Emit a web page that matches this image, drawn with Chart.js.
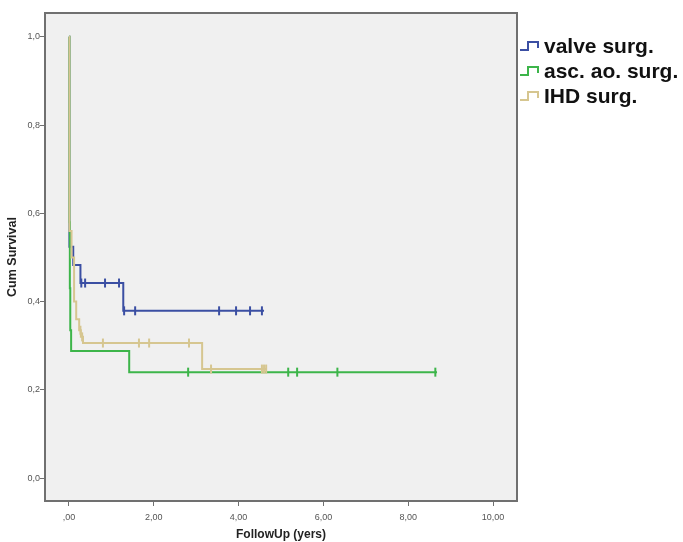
<!DOCTYPE html>
<html>
<head>
<meta charset="utf-8">
<title>Cum Survival</title>
<script src="https://cdn.jsdelivr.net/npm/chart.js@4.4.1/dist/chart.umd.min.js"></script>
<style>
    html, body { margin: 0; padding: 0; background: #fff; }
</style>
</head>
<body>
<canvas id="survChart" width="683" height="542"></canvas>
<script>
var groupNames = ['valve surg.', 'asc. ao. surg.', 'IHD surg.']
var groupColors = ['#3b4fa3', '#3db54a', '#d6c690']

var valveTimes = [0, 0.01, 0.10, 0.27, 1.28, 4.60]
var valveSurv = [1.0, 0.524, 0.483, 0.442, 0.379, 0.379]
var valveCensor = [0.29, 0.38, 0.85, 1.18, 1.30, 1.56, 3.54, 3.94, 4.27, 4.55]

var aortaTimes = [0, 0.01, 0.02, 0.03, 0.05, 1.42, 8.68]
var aortaSurv = [1.0, 0.58, 0.43, 0.335, 0.288, 0.240, 0.240]
var aortaCensor = [2.81, 5.17, 5.38, 6.33, 8.64]

var ihdTimes = [0, 0.01, 0.06, 0.12, 0.17, 0.24, 0.28, 0.33, 3.14, 4.67]
var ihdSurv = [1.0, 0.56, 0.50, 0.40, 0.36, 0.335, 0.32, 0.306, 0.247, 0.247]
var ihdCensor = [0.27, 0.31, 0.80, 1.65, 1.89, 2.83, 3.35, 4.55, 4.60, 4.65]

var xTicks = [0, 2, 4, 6, 8, 10]
var yTicks = [0, 0.2, 0.4, 0.6, 0.8, 1.0]

Chart.defaults.font.family = "'Liberation Sans', Arial, sans-serif"

function stepPoints(times, surv) {
    return times.map(function (t, i) { return { x: t, y: surv[i] } })
}
function survivalAt(times, surv, t) {
    var s = surv[0]
    for (var i = 0; i < times.length; i++) {
        if (times[i] <= t) s = surv[i]
    }
    return s
}
function censorPoints(times, surv, censored) {
    return censored.map(function (t) { return { x: t, y: survivalAt(times, surv, t) } })
}
function curveSet(idx, times, surv, order) {
    return {
        label: groupNames[idx],
        data: stepPoints(times, surv),
        stepped: 'before',
        borderColor: groupColors[idx],
        borderWidth: 2,
        pointRadius: 0,
        fill: false,
        order: order
    }
}
function censorSet(idx, times, surv, censored, order) {
    return {
        label: groupNames[idx] + ' censored',
        data: censorPoints(times, surv, censored),
        showLine: false,
        pointStyle: 'line',
        rotation: 90,
        pointRadius: 4.5,
        pointBorderWidth: 2,
        pointBorderColor: groupColors[idx],
        borderColor: groupColors[idx],
        order: order
    }
}

var plotFrame = {
    id: 'plotFrame',
    beforeDraw: function (chart) {
        var a = chart.chartArea
        chart.ctx.save()
        chart.ctx.fillStyle = '#f0f0f0'
        chart.ctx.fillRect(a.left, a.top, a.right - a.left, a.bottom - a.top)
        chart.ctx.restore()
    },
    afterDatasetsDraw: function (chart) {
        var a = chart.chartArea
        var ctx = chart.ctx
        ctx.save()
        ctx.strokeStyle = '#707070'
        ctx.lineWidth = 2
        ctx.strokeRect(a.left, a.top, a.right - a.left, a.bottom - a.top)
        ctx.restore()
    }
}

var stepLegend = {
    id: 'stepLegend',
    afterDraw: function (chart) {
        var ctx = chart.ctx
        var x = chart.chartArea.right + 3
        ctx.save()
        ctx.font = "bold 21px 'Liberation Sans', Arial, sans-serif"
        ctx.textBaseline = 'middle'
        groupNames.forEach(function (name, i) {
            var y = 46 + i * 25
            ctx.strokeStyle = groupColors[i]
            ctx.lineWidth = 2
            ctx.beginPath()
            ctx.moveTo(x, y + 4)
            ctx.lineTo(x + 8, y + 4)
            ctx.lineTo(x + 8, y - 4)
            ctx.lineTo(x + 18, y - 4)
            ctx.lineTo(x + 18, y + 2)
            ctx.stroke()
            ctx.fillStyle = '#111'
            ctx.fillText(name, x + 24, y + 1)
        })
        ctx.restore()
    }
}

new Chart(document.getElementById('survChart'), {
    type: 'line',
    data: {
        datasets: [
            curveSet(2, ihdTimes, ihdSurv, 0),
            censorSet(2, ihdTimes, ihdSurv, ihdCensor, 0),
            curveSet(1, aortaTimes, aortaSurv, 1),
            censorSet(1, aortaTimes, aortaSurv, aortaCensor, 1),
            curveSet(0, valveTimes, valveSurv, 2),
            censorSet(0, valveTimes, valveSurv, valveCensor, 2)
        ]
    },
    options: {
        responsive: false,
        animation: false,
        layout: { padding: { top: 13, right: 166, left: 0, bottom: 0 } },
        scales: {
            x: {
                type: 'linear',
                min: -0.566,
                max: 10.566,
                afterBuildTicks: function (axis) {
                    axis.ticks = xTicks.map(function (v) { return { value: v } })
                },
                afterFit: function (axis) { axis.height = 41 },
                grid: { drawOnChartArea: false, drawTicks: true, tickLength: 5, color: '#707070' },
                border: { display: true, color: '#707070', width: 2 },
                ticks: {
                    color: '#555',
                    font: { size: 9 },
                    padding: 6,
                    maxRotation: 0,
                    autoSkip: false,
                    callback: function (value) {
                        return value === 0 ? ',00' : value.toFixed(2).replace('.', ',')
                    }
                },
                title: {
                    display: true,
                    text: 'FollowUp (yers)',
                    color: '#222',
                    font: { size: 12, weight: 'bold' },
                    padding: { top: 0, bottom: 0 }
                }
            },
            y: {
                type: 'linear',
                min: -0.052,
                max: 1.054,
                afterBuildTicks: function (axis) {
                    axis.ticks = yTicks.map(function (v) { return { value: v } })
                },
                afterFit: function (axis) { axis.width = 45 },
                grid: { drawOnChartArea: false, drawTicks: true, tickLength: 5, color: '#707070' },
                border: { display: true, color: '#707070', width: 2 },
                ticks: {
                    color: '#555',
                    font: { size: 9 },
                    padding: 0,
                    autoSkip: false,
                    callback: function (value) { return value.toFixed(1).replace('.', ',') }
                },
                title: {
                    display: true,
                    text: 'Cum Survival',
                    color: '#222',
                    font: { size: 12.5, weight: 'bold' },
                    padding: { top: 5, bottom: 0 }
                }
            }
        },
        plugins: {
            legend: { display: false },
            tooltip: { enabled: false }
        }
    },
    plugins: [plotFrame, stepLegend]
})
</script>
</body>
</html>
